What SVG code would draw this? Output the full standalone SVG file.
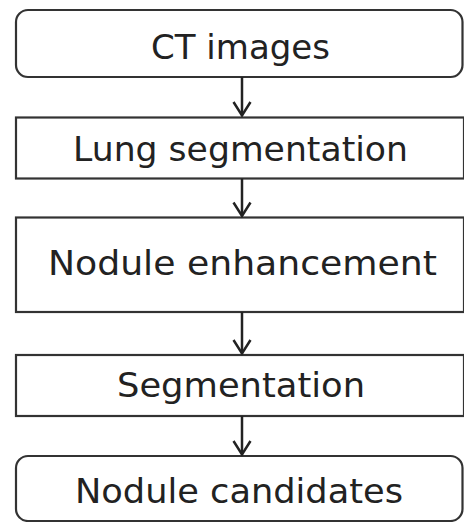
<svg xmlns="http://www.w3.org/2000/svg" width="464" height="522" viewBox="0 0 464 522">
<defs>
<style>
.box{fill:#fff;stroke:#333;stroke-width:2.2}
.lbl{font-family:"DejaVu Sans","Liberation Sans",sans-serif;font-size:33px;fill:#222}
.conn line{stroke:#222;stroke-width:2.5}
.conn path{fill:none;stroke:#222;stroke-width:2.5}
</style>
</defs>
<rect width="464" height="522" fill="#fff"/>
<g id="n1"><rect class="box" x="16" y="10" width="446.5" height="67" rx="12"/><text class="lbl" x="151" y="59" textLength="179" lengthAdjust="spacingAndGlyphs">CT images</text></g>
<g id="n2"><rect class="box" x="16" y="117.5" width="448" height="61"/><text class="lbl" x="73" y="161" textLength="335" lengthAdjust="spacingAndGlyphs">Lung segmentation</text></g>
<g id="n3"><rect class="box" x="16" y="217.5" width="448" height="94.5"/><text class="lbl" x="48" y="275" textLength="389" lengthAdjust="spacingAndGlyphs">Nodule enhancement</text></g>
<g id="n4"><rect class="box" x="16" y="355" width="448" height="61"/><text class="lbl" x="117" y="397" textLength="248" lengthAdjust="spacingAndGlyphs">Segmentation</text></g>
<g id="n5"><rect class="box" x="16" y="456" width="446.5" height="65" rx="12"/><text class="lbl" x="75" y="503" textLength="328" lengthAdjust="spacingAndGlyphs">Nodule candidates</text></g>
<g id="connectors" class="conn">
<line x1="242" y1="77" x2="242" y2="115.5"/><path d="M233.5 102 L242 115.5 L250.5 102"/>
<line x1="242" y1="178.5" x2="242" y2="216"/><path d="M233.5 202.5 L242 216 L250.5 202.5"/>
<line x1="242" y1="312" x2="242" y2="353.5"/><path d="M233.5 340 L242 353.5 L250.5 340"/>
<line x1="242" y1="416" x2="242" y2="454.5"/><path d="M233.5 441 L242 454.5 L250.5 441"/>
</g>
</svg>
